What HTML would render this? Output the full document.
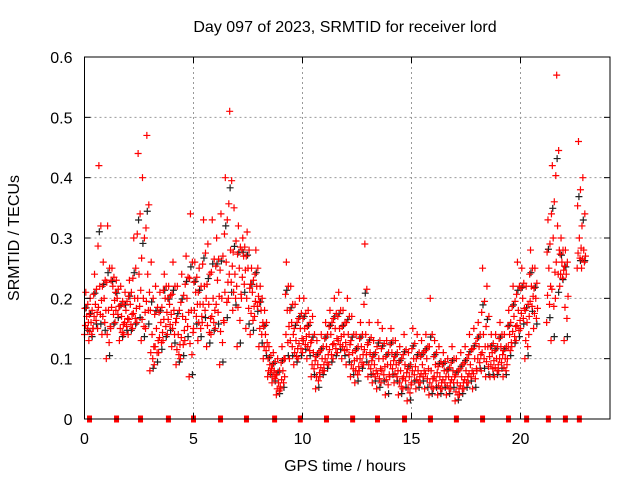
<!DOCTYPE html>
<html><head><meta charset="utf-8"><style>
body{margin:0;background:#fff}
svg{display:block;font-family:"Liberation Sans",sans-serif}
</style></head><body>
<svg id="chart" width="640" height="480">
<text x="345" y="32" text-anchor="middle" font-size="16">Day 097 of 2023, SRMTID for receiver lord</text>
<text x="345" y="471" text-anchor="middle" font-size="16">GPS time / hours</text>
<text transform="translate(19,238) rotate(-90)" text-anchor="middle" font-size="16">SRMTID / TECUs</text>
<g id="grid"></g><g id="marks"></g><g id="axes"></g>
</svg>
<script>
const times=[0.0,0.2,0.4,0.6,0.8,1.0,1.2,1.4,1.6,1.8,2.0,2.2,2.4,2.6,2.8,3.0,3.2,3.4,3.6,3.8,4.0,4.2,4.4,4.6,4.8,5.0,5.2,5.4,5.6,5.8,6.0,6.2,6.4,6.6,6.8,7.0,7.2,7.4,7.6,7.8,8.0,8.2,8.4,8.6,8.8,9.0,9.2,9.4,9.6,9.8,10.0,10.2,10.4,10.6,10.8,11.0,11.2,11.4,11.6,11.8,12.0,12.2,12.4,12.6,12.8,13.0,13.2,13.4,13.6,13.8,14.0,14.2,14.4,14.6,14.8,15.0,15.2,15.4,15.6,15.8,16.0,16.2,16.4,16.6,16.8,17.0,17.2,17.4,17.6,17.8,18.0,18.2,18.4,18.6,18.8,19.0,19.2,19.4,19.6,19.8,20.0,20.2,20.4,20.6,20.8,21.0,21.2,21.4,21.6,21.8,22.0,22.2,22.4,22.6,22.8];
const lo=[.14,.13,.15,.15,.14,.10,.15,.16,.13,.14,.14,.15,.16,.13,.15,.08,.09,.11,.13,.14,.12,.09,.10,.13,.07,.15,.13,.16,.12,.14,.15,.09,.16,.20,.18,.12,.20,.15,.14,.17,.12,.10,.07,.06,.04,.05,.10,.10,.09,.10,.11,.10,.07,.05,.07,.08,.09,.10,.11,.10,.09,.07,.06,.08,.09,.07,.06,.05,.06,.04,.07,.06,.04,.05,.03,.06,.05,.06,.05,.04,.05,.04,.05,.04,.05,.03,.04,.05,.06,.05,.08,.08,.07,.07,.07,.08,.07,.10,.12,.13,.15,.10,.17,.15,null,null,.16,.13,.20,.22,.13,null,null,.25,.25];
const mid=[.17,.16,.19,.22,.20,.18,.22,.20,.17,.18,.19,.20,.24,.20,.24,.14,.15,.16,.20,.19,.18,.14,.17,.20,.18,.21,.19,.22,.19,.20,.23,.20,.26,.28,.24,.25,.27,.25,.21,.22,.18,.14,.09,.08,.06,.08,.18,.16,.13,.15,.15,.14,.11,.09,.10,.12,.14,.15,.15,.14,.14,.11,.10,.12,.14,.11,.09,.10,.10,.09,.11,.09,.08,.09,.07,.10,.08,.09,.10,.08,.09,.07,.08,.07,.08,.06,.07,.08,.09,.10,.12,.14,.12,.11,.10,.12,.10,.14,.17,.18,.20,.16,.22,.20,null,null,.25,.30,.32,.26,.24,null,null,.30,.28];
const hi=[.21,.20,.24,.42,.26,.32,.25,.23,.22,.21,.23,.30,.44,.40,.47,.26,.22,.21,.24,.22,.26,.22,.24,.27,.34,.26,.25,.33,.29,.33,.30,.34,.40,.51,.35,.32,.30,.31,.25,.28,.22,.18,.12,.11,.10,.12,.26,.22,.19,.20,.20,.18,.17,.13,.14,.16,.18,.20,.21,.18,.20,.17,.14,.16,.29,.16,.13,.16,.15,.13,.15,.13,.12,.14,.11,.15,.14,.13,.14,.20,.13,.12,.11,.10,.12,.10,.11,.12,.14,.15,.16,.25,.22,.14,.14,.16,.14,.18,.22,.26,.25,.22,.28,.25,null,null,.33,.42,.57,.30,.28,null,null,.46,.40];
const zeroTimes=[0.23,1.47,2.57,3.85,5.0,6.24,7.43,8.72,9.9,11.1,12.3,13.44,14.68,15.87,17.06,18.26,19.45,20.28,21.28,22.06,22.7];
const xTicks=[0,5,10,15,20];
const yTicks=[0,0.1,0.2,0.3,0.4,0.5,0.6];
const L=84.5,R=610,T=57,B=419;
const sx=v=>L+v*21.8, sy=v=>B-(v/0.6)*(B-T);
const NS='http://www.w3.org/2000/svg';
function mk(tag,attrs,parent){const e=document.createElementNS(NS,tag);for(const k in attrs)e.setAttribute(k,attrs[k]);parent.appendChild(e);return e;}
const grid=document.getElementById('grid'),marks=document.getElementById('marks'),axes=document.getElementById('axes');
xTicks.forEach(t=>{
  if(t>0){const g=mk('line',{x1:sx(t),x2:sx(t),y1:T,y2:B,stroke:'#999','stroke-dasharray':'2,3'},grid);
  
  }
  const tx=mk('text',{x:sx(t),y:B+25,'text-anchor':'middle','font-size':16},axes);tx.textContent=t;
  
  
  mk('line',{x1:sx(t),x2:sx(t),y1:B,y2:B-6,stroke:'#000'},axes);
  mk('line',{x1:sx(t),x2:sx(t),y1:T,y2:T+6,stroke:'#000'},axes);
});
yTicks.forEach(t=>{
  if(t>0&&t<0.6){const g=mk('line',{x1:L,x2:R,y1:sy(t),y2:sy(t),stroke:'#999','stroke-dasharray':'2,3'},grid);
  
  }
  const tx=mk('text',{x:L-12,y:sy(t)+6,'text-anchor':'end','font-size':16},axes);tx.textContent=t;
  
  
  mk('line',{x1:L,x2:L+6,y1:sy(t),y2:sy(t),stroke:'#000'},axes);
  mk('line',{x1:R,x2:R-6,y1:sy(t),y2:sy(t),stroke:'#000'},axes);
});
const box=mk('rect',{x:L,y:T,width:R-L,height:B-T,fill:'none',stroke:'#000'},axes);


function plus(x,y,c){const p=mk('path',{d:`M${x-3.5},${y}h7M${x},${y-3.5}v7`,stroke:c,'stroke-width':1.2},marks);return p;}
times.forEach((t,i)=>{
  if(mid[i]==null)return;
  const p=plus(sx(t+0.08),sy((mid[i]+hi[i])/2*0.97),'#222');
  
  
  const q=plus(sx(t+0.15),sy(lo[i]*1.05),'#222');
  
  
});
times.forEach((t,i)=>{
  if(mid[i]==null)return;
  const vals=[[0,lo[i]],[0.04,(lo[i]+mid[i])/2],[0.1,mid[i]],[0.15,(mid[i]+hi[i])/2],[0.06,hi[i]],[0.13,(lo[i]*2+mid[i])/3],[0.02,(mid[i]*2+hi[i])/3],[0.18,(lo[i]+mid[i]*2)/3]];
  vals.forEach(([dx,v])=>{
    const p=plus(sx(t+dx),sy(v),'#f00');
    
    
  });
});
zeroTimes.forEach(t=>{
  const r=mk('rect',{x:sx(t)-2.5,y:B-3.5,width:5,height:7,fill:'#f00'},marks);
  
  
});
</script>
</body></html>
